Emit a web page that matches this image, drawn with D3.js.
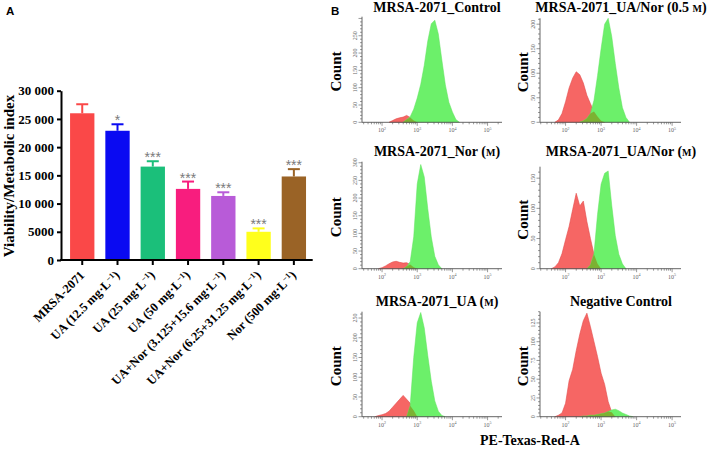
<!DOCTYPE html>
<html><head><meta charset="utf-8">
<script src="https://cdn.jsdelivr.net/npm/d3@7"></script>
<style>body{margin:0;background:#fff}svg{display:block}</style>
</head><body><svg id="c" width="709" height="450"></svg>
<script>
// ---------------- Panel A data ----------------
const categories = ["MRSA-2071", "UA (12.5 mg·L", "UA (25 mg·L", "UA (50 mg·L",
  "UA+Nor (3.125+15.6 mg·L", "UA+Nor (6.25+31.25 mg·L", "Nor (500 mg·L"];
const hasUnit = [false, true, true, true, true, true, true];
const values = [26000, 22900, 16550, 12600, 11350, 5000, 14800];
const errors = [1600, 1150, 950, 1300, 650, 600, 1300];
const stars = ["", "*", "***", "***", "***", "***", "***"];
const barColors = ["#fa4848", "#0a0af2", "#1bbf7a", "#f81d7e", "#b85bd8", "#ffff1c", "#9a6326"];
const yTickValues = [0, 5000, 10000, 15000, 20000, 25000, 30000];
const yTickLabels = ["0", "5000", "10 000", "15 000", "20 000", "25 000", "30 000"];

// ---------------- Panel B data (counts per 0.1 log10 step) ----------------
const histStep = 0.1;
const titles = ["MRSA-2071_Control", "MRSA-2071_UA/Nor (0.5 M)", "MRSA-2071_Nor (M)",
  "MRSA-2071_UA/Nor (M)", "MRSA-2071_UA (M)", "Negative Control"];
const redStarts = [2.2, 1.7, 1.9, 1.6, 1.8, 1.7];
const greenStarts = [2.6, 2.4, 2.6, 2.6, 2.7, 2.4];
const controlRed = [0, 5, 10, 13, 15, 20, 14, 5, 0];
const controlGreen = [0, 8, 16, 38, 70, 110, 165, 235, 285, 295, 255, 180, 108, 58, 30, 8, 0];
const halfRed = [0, 5, 18, 42, 70, 90, 103, 97, 80, 55, 38, 22, 12, 3, 0];
const halfGreen = [0, 3, 8, 18, 45, 95, 150, 200, 212, 175, 120, 70, 30, 10, 0];
const norRed = [0, 3, 8, 14, 19, 21, 18, 16, 17, 12, 4, 0];
const norGreen = [0, 6, 20, 90, 240, 295, 260, 170, 90, 35, 11, 0];
const uaNorRed = [0, 3, 10, 25, 48, 70, 98, 125, 104, 112, 78, 50, 24, 8, 0];
const uaNorGreen = [0, 6, 25, 90, 140, 158, 162, 105, 55, 24, 8, 0];
const uaRed = [0, 3, 5, 8, 14, 24, 34, 44, 54, 44, 34, 16, 0];
const uaGreen = [0, 28, 150, 238, 264, 225, 155, 90, 40, 14, 3, 0];
const negRed = [0, 2, 5, 18, 48, 63, 88, 110, 128, 138, 120, 100, 80, 58, 43, 20, 6, 0];
const negGreen = [0, 1, 1, 2, 2, 3, 4, 5, 7, 9, 10, 8, 5, 3, 1, 0];
const redSeries = [controlRed, halfRed, norRed, uaNorRed, uaRed, negRed];
const greenSeries = [controlGreen, halfGreen, norGreen, uaNorGreen, uaGreen, negGreen];
const yAxisMax = [305, 212, 303, 169, 266, 140];
const yLabelStep = [50, 50, 50, 50, 50, 25];
const yLabelMax = [250, 200, 300, 150, 250, 125];
const xDecades = [2, 3, 4, 5];

const svg = d3.select("#c");
const serif = "'Liberation Serif','Times New Roman',serif";

// ================= Panel A =================
svg.append("text").attr("x", 6).attr("y", 15).attr("font-family", "'Liberation Sans',Arial,sans-serif")
  .attr("font-weight", "bold").attr("font-size", 11.5).text("A");

const yA = d3.scaleLinear().domain([0, 30000]).range([260, 90.7]);
const xA = d3.scaleBand().domain(categories).range([64.6, 311.5]).paddingInner(0.31).paddingOuter(0.155);
const gA = svg.append("g");

gA.selectAll("rect.bar").data(values).join("rect").attr("class", "bar")
  .attr("x", (d, i) => xA(categories[i])).attr("width", xA.bandwidth())
  .attr("y", d => yA(d)).attr("height", d => 260 - yA(d))
  .attr("fill", (d, i) => barColors[i]);

// error bars
values.forEach((v, i) => {
  const cx = xA(categories[i]) + xA.bandwidth() / 2;
  gA.append("line").attr("x1", cx).attr("x2", cx).attr("y1", yA(v)).attr("y2", yA(v + errors[i]))
    .attr("stroke", barColors[i]).attr("stroke-width", 2);
  gA.append("line").attr("x1", cx - 6).attr("x2", cx + 6).attr("y1", yA(v + errors[i])).attr("y2", yA(v + errors[i]))
    .attr("stroke", barColors[i]).attr("stroke-width", 2);
  if (stars[i]) {
    gA.append("text").attr("x", cx).attr("y", yA(v + errors[i]) + 1).attr("text-anchor", "middle")
      .attr("font-family", "'Liberation Sans',Arial,sans-serif").attr("font-size", 14).attr("fill", "#7a7a7a")
      .text(stars[i]);
  }
});

// y axis
const yAxisA = d3.axisLeft(yA).tickValues(yTickValues).tickSize(4).tickSizeOuter(0)
  .tickFormat((d, i) => yTickLabels[i]);
const gyA = gA.append("g").attr("transform", "translate(61,0)").call(yAxisA);
gyA.select(".domain").attr("stroke", "#000").attr("stroke-width", 2);
gyA.selectAll(".tick line").attr("stroke", "#000").attr("stroke-width", 2);
gyA.selectAll(".tick text").attr("font-family", serif).attr("font-weight", "bold")
  .attr("font-size", 13).attr("fill", "#000").attr("x", -7);

// x axis
const gxA = gA.append("g").attr("transform", "translate(0,260)");
gxA.append("line").attr("x1", 60).attr("x2", 312.7).attr("stroke", "#000").attr("stroke-width", 2);
categories.forEach((c, i) => {
  const cx = xA(c) + xA.bandwidth() / 2;
  gxA.append("line").attr("x1", cx).attr("x2", cx).attr("y1", 0).attr("y2", 5).attr("stroke", "#000").attr("stroke-width", 2);
  const t = gxA.append("text").attr("transform", `translate(${cx + 3},${16}) rotate(-45)`)
    .attr("text-anchor", "end").attr("font-family", serif).attr("font-weight", "bold")
    .attr("font-size", 12.5).attr("fill", "#000");
  t.append("tspan").text(c);
  if (hasUnit[i]) {
    t.append("tspan").attr("dy", -4).attr("font-size", 8).text("−1");
    t.append("tspan").attr("dy", 4).text(")");
  }
});

svg.append("text").attr("transform", "translate(14,176) rotate(-90)").attr("text-anchor", "middle")
  .attr("font-family", serif).attr("font-weight", "bold").attr("font-size", 15).text("Viability/Metabolic index");

// ================= Panel B =================
svg.append("text").attr("x", 331).attr("y", 15).attr("font-family", "'Liberation Sans',Arial,sans-serif")
  .attr("font-weight", "bold").attr("font-size", 11.5).text("B");

const cols = [
  { x0: 362, x1: 502, lmin: 1.43, lmax: 5.41, countX: 341, titleX: 437 },
  { x0: 540, x1: 681, lmin: 1.28, lmax: 5.25, countX: 528, titleX: 621 }
];
const rows = [
  { top: [16.7, 18.3], bottom: 122.3, titleY: 11.5 },
  { top: [161.7, 166.7], bottom: 268.7, titleY: 155.5 },
  { top: [311.7, 311.7], bottom: 416.7, titleY: 305.5 }
];

const redFill = "#f66664", greenFill = "#6cf06a", overlapFill = "#7cb232";

titles.forEach((title, p) => {
  const col = cols[p % 2], row = rows[Math.floor(p / 2)];
  const top = row.top[p % 2], bottom = row.bottom;
  const x = d3.scaleLinear().domain([col.lmin, col.lmax]).range([col.x0, col.x1]);
  const y = d3.scaleLinear().domain([0, yAxisMax[p]]).range([bottom, top]);
  const g = svg.append("g");

  const toPts = (arr, start) => arr.map((c, i) => ({ k: Math.round(start / histStep) + i, c }));
  const red = toPts(redSeries[p], redStarts[p]);
  const green = toPts(greenSeries[p], greenStarts[p]);
  const area = d3.area().x(d => x(d.k * histStep)).y0(bottom).y1(d => y(d.c)).curve(d3.curveLinear);

  // overlap = min of the two on the shared grid
  const rMap = new Map(red.map(d => [d.k, d.c]));
  const ov = green.filter(d => rMap.has(d.k)).map(d => ({ k: d.k, c: Math.min(d.c, rMap.get(d.k)) }));

  g.append("path").attr("d", area(red)).attr("fill", redFill).attr("stroke", "#e24b4b").attr("stroke-width", 0.6);
  g.append("path").attr("d", area(green)).attr("fill", greenFill).attr("stroke", "#5ee05c").attr("stroke-width", 0.5);
  if (ov.length > 1) g.append("path").attr("d", area(ov)).attr("fill", overlapFill);

  // axes
  const axCol = "#555";
  g.append("line").attr("x1", col.x0).attr("x2", col.x1).attr("y1", bottom).attr("y2", bottom).attr("stroke", axCol).attr("stroke-width", 0.9);
  g.append("line").attr("x1", col.x0).attr("x2", col.x0).attr("y1", bottom).attr("y2", top).attr("stroke", axCol).attr("stroke-width", 0.9);
  // x ticks
  for (let dec = 1; dec <= 5; dec++) {
    for (let m = 1; m <= 9; m++) {
      const lv = dec + Math.log10(m);
      if (lv < col.lmin || lv > col.lmax) continue;
      g.append("line").attr("x1", x(lv)).attr("x2", x(lv)).attr("y1", bottom).attr("y2", bottom + (m === 1 ? 3.5 : 2))
        .attr("stroke", axCol).attr("stroke-width", 0.6);
    }
  }
  xDecades.forEach(dv => {
    const t = g.append("text").attr("x", x(dv)).attr("y", bottom + 10).attr("text-anchor", "middle")
      .attr("font-family", serif).attr("font-size", 6).attr("fill", "#666");
    t.append("tspan").text("10");
    t.append("tspan").attr("dy", -2.5).attr("font-size", 4).text(String(dv));
  });
  // y ticks
  const minor = yLabelStep[p] / 5;
  for (let v = 0; v <= yAxisMax[p]; v += minor) {
    const major = Math.abs(v / yLabelStep[p] - Math.round(v / yLabelStep[p])) < 1e-6;
    g.append("line").attr("x1", col.x0).attr("x2", col.x0 - (major ? 3.5 : 2)).attr("y1", y(v)).attr("y2", y(v))
      .attr("stroke", axCol).attr("stroke-width", 0.6);
  }
  for (let v = 0; v <= yLabelMax[p]; v += yLabelStep[p]) {
    g.append("text").attr("transform", `translate(${col.x0 - 5},${y(v)}) rotate(-90)`).attr("text-anchor", "middle")
      .attr("font-family", serif).attr("font-size", 6).attr("fill", "#666").text(v);
  }

  // Count label
  svg.append("text").attr("transform", `translate(${col.countX},${(top + bottom) / 2 + 2}) rotate(-90)`)
    .attr("text-anchor", "middle").attr("font-family", serif).attr("font-weight", "bold").attr("font-size", 15).text("Count");

  // title
  const tt = svg.append("text").attr("x", col.titleX).attr("y", row.titleY).attr("text-anchor", "middle")
    .attr("font-family", serif).attr("font-weight", "bold").attr("font-size", 14);
  if (title.endsWith("M)")) {
    tt.append("tspan").text(title.slice(0, -2));
    tt.append("tspan").attr("font-size", 10).text("M");
    tt.append("tspan").text(")");
  } else tt.text(title);
});

svg.append("text").attr("x", 480).attr("y", 445).attr("font-family", serif).attr("font-weight", "bold")
  .attr("font-size", 14).text("PE-Texas-Red-A");
</script></body></html>
